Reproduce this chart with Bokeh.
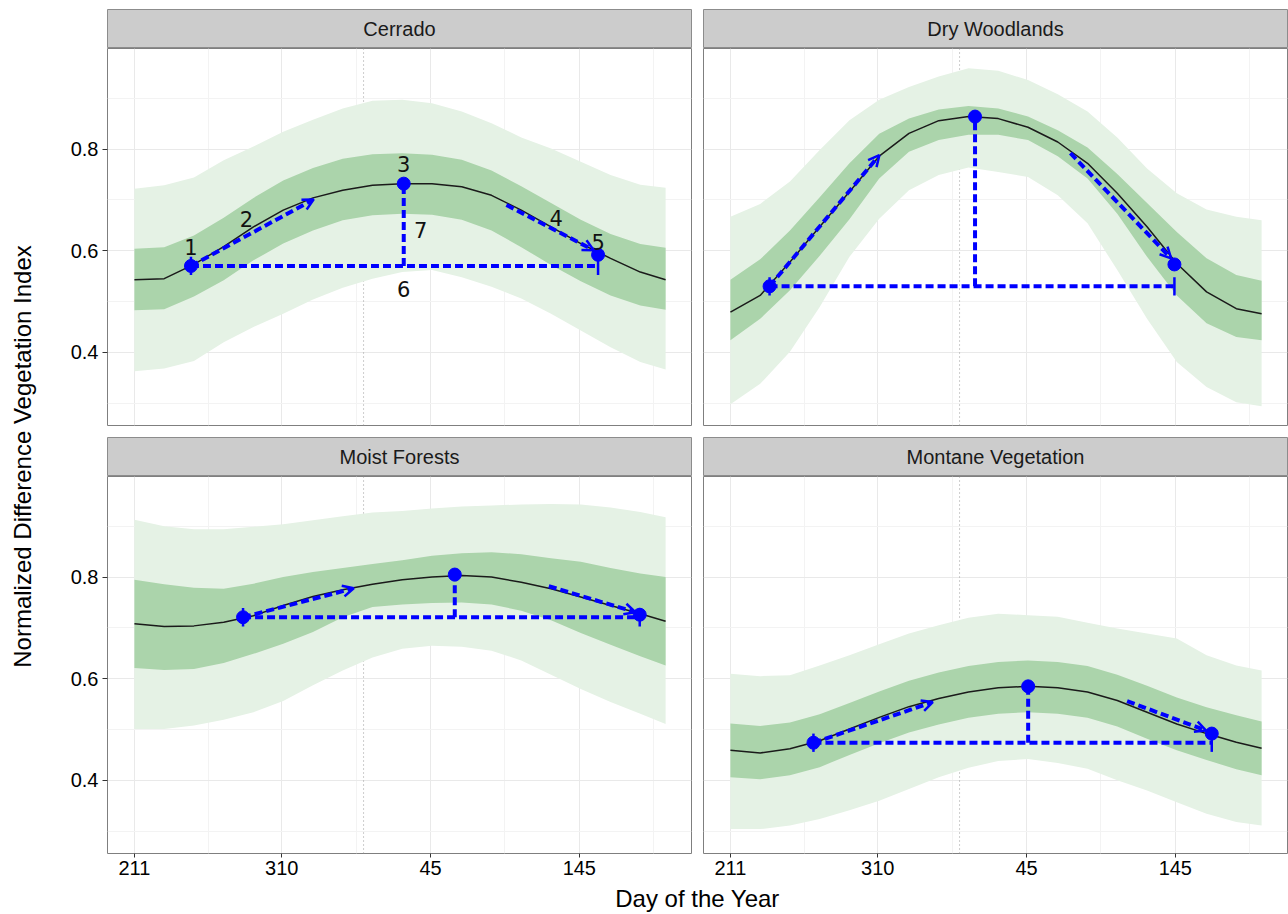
import math
from bokeh.plotting import figure
from bokeh.models import (Range1d, LinearAxis, FixedTicker, Grid, Span, Arrow,
                          OpenHead, ColumnDataSource)
from bokeh.layouts import row, column
from bokeh.embed import file_html
from bokeh.resources import INLINE
from bokeh.core.properties import value

# ---------------- data ----------------
# x = days elapsed since day-of-year 211
day_offset = [0, 20, 40, 60, 80, 100, 120, 140, 160, 180, 200, 220, 240, 260, 280, 300, 320, 340, 357]
x_tick_pos = [0, 99, 199, 299]
x_tick_labels = ["211", "310", "45", "145"]
x_minor_pos = [49.5, 149, 249, 349]
y_tick_pos = [0.4, 0.6, 0.8]
y_minor_pos = [0.3, 0.5, 0.7, 0.9]
new_year_offset = 154   # day 365/1 relative to day 211

panel_names = ["Cerrado", "Dry Woodlands", "Moist Forests", "Montane Vegetation"]

cerrado_mean = [0.543, 0.545, 0.573, 0.608, 0.647, 0.680, 0.704, 0.719, 0.729, 0.732, 0.732, 0.726, 0.709, 0.680, 0.647, 0.614, 0.585, 0.558, 0.543]
cerrado_dark_hi = [0.604, 0.607, 0.630, 0.665, 0.704, 0.738, 0.763, 0.781, 0.790, 0.792, 0.789, 0.779, 0.758, 0.727, 0.694, 0.661, 0.633, 0.613, 0.606]
cerrado_dark_lo = [0.483, 0.485, 0.510, 0.542, 0.581, 0.614, 0.640, 0.660, 0.670, 0.673, 0.671, 0.661, 0.640, 0.607, 0.572, 0.540, 0.512, 0.492, 0.484]
cerrado_light_hi = [0.722, 0.729, 0.744, 0.778, 0.805, 0.834, 0.858, 0.880, 0.895, 0.897, 0.890, 0.874, 0.851, 0.823, 0.801, 0.775, 0.749, 0.730, 0.724]
cerrado_light_lo = [0.363, 0.368, 0.383, 0.420, 0.450, 0.476, 0.504, 0.527, 0.545, 0.558, 0.562, 0.548, 0.529, 0.506, 0.476, 0.443, 0.410, 0.381, 0.366]

dry_mean = [0.479, 0.512, 0.578, 0.647, 0.716, 0.786, 0.831, 0.856, 0.864, 0.860, 0.843, 0.814, 0.772, 0.713, 0.647, 0.575, 0.519, 0.486, 0.476]
dry_dark_hi = [0.543, 0.583, 0.640, 0.705, 0.772, 0.830, 0.860, 0.878, 0.885, 0.880, 0.864, 0.837, 0.803, 0.751, 0.694, 0.637, 0.585, 0.552, 0.541]
dry_dark_lo = [0.424, 0.466, 0.522, 0.590, 0.662, 0.742, 0.795, 0.818, 0.828, 0.828, 0.818, 0.786, 0.742, 0.673, 0.588, 0.512, 0.457, 0.430, 0.424]
dry_light_hi = [0.667, 0.692, 0.736, 0.798, 0.857, 0.897, 0.922, 0.943, 0.959, 0.954, 0.936, 0.908, 0.874, 0.823, 0.762, 0.713, 0.681, 0.667, 0.660]
dry_light_lo = [0.298, 0.338, 0.401, 0.489, 0.588, 0.663, 0.719, 0.749, 0.764, 0.755, 0.745, 0.709, 0.654, 0.562, 0.466, 0.381, 0.332, 0.302, 0.294]

moist_mean = [0.708, 0.703, 0.704, 0.711, 0.724, 0.744, 0.762, 0.775, 0.786, 0.795, 0.800, 0.803, 0.800, 0.790, 0.777, 0.761, 0.744, 0.728, 0.713]
moist_dark_hi = [0.795, 0.786, 0.779, 0.777, 0.787, 0.800, 0.810, 0.818, 0.826, 0.833, 0.842, 0.847, 0.849, 0.845, 0.837, 0.830, 0.818, 0.807, 0.800]
moist_dark_lo = [0.621, 0.617, 0.619, 0.631, 0.649, 0.669, 0.692, 0.721, 0.741, 0.746, 0.749, 0.750, 0.746, 0.734, 0.715, 0.690, 0.667, 0.644, 0.626]
moist_light_hi = [0.913, 0.900, 0.894, 0.894, 0.899, 0.904, 0.912, 0.920, 0.927, 0.930, 0.935, 0.939, 0.941, 0.943, 0.944, 0.943, 0.937, 0.928, 0.918]
moist_light_lo = [0.501, 0.501, 0.508, 0.519, 0.534, 0.556, 0.587, 0.616, 0.642, 0.659, 0.665, 0.663, 0.655, 0.636, 0.608, 0.580, 0.554, 0.531, 0.511]

montane_mean = [0.459, 0.454, 0.462, 0.478, 0.501, 0.524, 0.545, 0.561, 0.574, 0.582, 0.585, 0.582, 0.574, 0.557, 0.534, 0.511, 0.492, 0.475, 0.463]
montane_dark_hi = [0.512, 0.507, 0.514, 0.530, 0.552, 0.575, 0.596, 0.612, 0.625, 0.633, 0.636, 0.633, 0.625, 0.608, 0.586, 0.563, 0.544, 0.528, 0.516]
montane_dark_lo = [0.406, 0.402, 0.410, 0.426, 0.450, 0.473, 0.494, 0.510, 0.523, 0.531, 0.534, 0.531, 0.523, 0.506, 0.482, 0.459, 0.440, 0.422, 0.410]
montane_light_hi = [0.610, 0.605, 0.607, 0.626, 0.646, 0.668, 0.689, 0.705, 0.720, 0.728, 0.725, 0.722, 0.710, 0.699, 0.689, 0.679, 0.646, 0.626, 0.616]
montane_light_lo = [0.304, 0.304, 0.311, 0.324, 0.341, 0.360, 0.383, 0.406, 0.425, 0.438, 0.442, 0.434, 0.423, 0.400, 0.380, 0.357, 0.334, 0.318, 0.311]

# phenology metrics per panel: (day offset, NDVI)
sos_day = [38.0, 26.3, 73.0, 55.8]
sos_ndvi = [0.570, 0.530, 0.721, 0.474]
peak_day = [181.0, 164.4, 215.3, 200.1]
peak_ndvi = [0.732, 0.864, 0.805, 0.585]
eos_day = [311.6, 298.4, 339.6, 323.5]
eos_ndvi = [0.592, 0.573, 0.726, 0.492]
green_up_end_day = [120.5, 100.1, 147.4, 136.0]
green_up_end_ndvi = [0.701, 0.788, 0.778, 0.554]
senescence_start_day = [250.0, 228.5, 278.5, 266.6]
senescence_start_ndvi = [0.690, 0.792, 0.782, 0.556]
senescence_end_day = [308.7, 296.2, 336.7, 319.7]
senescence_end_ndvi = [0.601, 0.585, 0.731, 0.498]

metric_labels = ["1", "2", "3", "4", "5", "6", "7"]

series = [
    (cerrado_mean, cerrado_dark_lo, cerrado_dark_hi, cerrado_light_lo, cerrado_light_hi),
    (dry_mean, dry_dark_lo, dry_dark_hi, dry_light_lo, dry_light_hi),
    (moist_mean, moist_dark_lo, moist_dark_hi, moist_light_lo, moist_light_hi),
    (montane_mean, montane_dark_lo, montane_dark_hi, montane_light_lo, montane_light_hi),
]

# ---------------- styles ----------------
LIGHT = "#e5f2e5"
DARK = "#abd4ab"
BLUE = "#0000ff"
FONT = "Liberation Sans"
FRAME_W, FRAME_H, STRIP_H = 584, 377, 39
X_RANGE = (-18.1, 374.4)
Y_RANGE = (0.256, 0.998)
TICK_HALF = 0.018


def blank_fig(**kw):
    f = figure(output_backend="svg", toolbar_location=None,
               x_axis_location=None, y_axis_location=None, **kw)
    f.center = [r for r in f.center if not isinstance(r, Grid)]
    f.outline_line_color = None
    return f


def make_strip(name, left, top_row):
    s = blank_fig(frame_width=FRAME_W, frame_height=STRIP_H,
                  x_range=Range1d(0, 1), y_range=Range1d(0, 1),
                  min_border_left=47 if left else 6, min_border_right=6 if left else 1,
                  min_border_top=9 if top_row else 0, min_border_bottom=0)
    s.background_fill_color = "#cccccc"
    s.outline_line_color = "#8c8c8c"
    s.text(x=[0.5], y=[0.5], text=[name], text_align="center", text_baseline="middle",
           text_font=value(FONT), text_font_size="20px", text_color="#1a1a1a")
    return s


def make_panel(i, left, bottom):
    mean, dlo, dhi, llo, lhi = series[i]
    p = blank_fig(frame_width=FRAME_W, frame_height=FRAME_H,
                  x_range=Range1d(*X_RANGE), y_range=Range1d(*Y_RANGE),
                  min_border_left=47 if left else 6, min_border_right=6 if left else 1,
                  min_border_top=0, min_border_bottom=32 if bottom else 12)
    p.outline_line_color = "#7f7f7f"
    p.outline_line_width = 1

    p.add_layout(Grid(dimension=0, ticker=FixedTicker(ticks=x_tick_pos, minor_ticks=x_minor_pos),
                      grid_line_color="#e9e9e9", minor_grid_line_color="#f3f3f3"), "center")
    p.add_layout(Grid(dimension=1, ticker=FixedTicker(ticks=y_tick_pos, minor_ticks=y_minor_pos),
                      grid_line_color="#e9e9e9", minor_grid_line_color="#f3f3f3"), "center")

    if left:
        ya = LinearAxis(ticker=FixedTicker(ticks=y_tick_pos))
        ya.axis_line_color = None
        ya.major_tick_line_color = "#333333"
        ya.major_tick_out = 5
        ya.major_tick_in = 0
        ya.minor_tick_line_color = None
        ya.major_label_standoff = 4
        ya.major_label_text_font = FONT
        ya.major_label_text_font_size = "20px"
        ya.major_label_text_color = "#000000"
        p.add_layout(ya, "left")
    if bottom:
        xa = LinearAxis(ticker=FixedTicker(ticks=x_tick_pos),
                        major_label_overrides=dict(zip(x_tick_pos, x_tick_labels)))
        xa.axis_line_color = None
        xa.major_tick_line_color = "#333333"
        xa.major_tick_out = 4
        xa.major_tick_in = 0
        xa.minor_tick_line_color = None
        xa.major_label_standoff = 3
        xa.major_label_text_font = FONT
        xa.major_label_text_font_size = "20px"
        xa.major_label_text_color = "#000000"
        p.add_layout(xa, "below")

    p.varea(x=day_offset, y1=llo, y2=lhi, fill_color=LIGHT)
    p.varea(x=day_offset, y1=dlo, y2=dhi, fill_color=DARK)
    p.add_layout(Span(location=new_year_offset, dimension="height", line_color="#9a9a9a",
                      line_width=1, line_dash="1 3", level="underlay"))
    p.line(x=day_offset, y=mean, line_color="#1a1a1a", line_width=1.5, line_join="round")

    base = sos_ndvi[i]
    # season length (horizontal) and amplitude (vertical)
    p.segment(x0=[sos_day[i], peak_day[i]], y0=[base, base],
              x1=[eos_day[i], peak_day[i]], y1=[base, peak_ndvi[i]],
              line_color=BLUE, line_width=4, line_dash="8 4")
    # end ticks of season length
    p.segment(x0=[sos_day[i], eos_day[i]], y0=[base - TICK_HALF, base - TICK_HALF],
              x1=[sos_day[i], eos_day[i]], y1=[base + TICK_HALF, base + TICK_HALF],
              line_color=BLUE, line_width=2.5)
    # green-up and senescence arrows
    for xs, ys, xe, ye in [(sos_day[i], sos_ndvi[i], green_up_end_day[i], green_up_end_ndvi[i]),
                           (senescence_start_day[i], senescence_start_ndvi[i],
                            senescence_end_day[i], senescence_end_ndvi[i])]:
        p.add_layout(Arrow(end=OpenHead(size=11, line_color=BLUE, line_width=2.5),
                           x_start=xs, y_start=ys, x_end=xe, y_end=ye,
                           line_color=BLUE, line_width=4, line_dash="8 4"))
    p.scatter(x=[sos_day[i], peak_day[i], eos_day[i]],
              y=[sos_ndvi[i], peak_ndvi[i], eos_ndvi[i]],
              size=13, color=BLUE, marker="circle")

    if i == 0:
        lab_x = [sos_day[i], (sos_day[i] + green_up_end_day[i]) / 2, peak_day[i],
                 (senescence_start_day[i] + senescence_end_day[i]) / 2, eos_day[i],
                 peak_day[i], peak_day[i]]
        lab_y = [sos_ndvi[i], (sos_ndvi[i] + green_up_end_ndvi[i]) / 2, peak_ndvi[i],
                 (senescence_start_ndvi[i] + senescence_end_ndvi[i]) / 2, eos_ndvi[i],
                 base, (base + peak_ndvi[i]) / 2]
        src = ColumnDataSource(dict(x=lab_x, y=lab_y, t=metric_labels,
                                    dx=[0, -6, 0, 6, 0, 0, 17],
                                    dy=[-19, -14, -20, -10, -13, 23, 5]))
        p.text(x="x", y="y", text="t", x_offset="dx", y_offset="dy", source=src,
               text_align="center", text_baseline="middle",
               text_font=value("DejaVu Sans"), text_font_size="21px", text_color="#111111")
    return p


left_col = column(make_strip(panel_names[0], True, True), make_panel(0, True, False),
                  make_strip(panel_names[2], True, False), make_panel(2, True, True))
right_col = column(make_strip(panel_names[1], False, True), make_panel(1, False, False),
                   make_strip(panel_names[3], False, False), make_panel(3, False, True))

xlab = blank_fig(frame_width=1228, frame_height=29, x_range=Range1d(0, 1228),
                 y_range=Range1d(0, 29), min_border=0)
xlab.text(x=[637], y=[16], text=["Day of the Year"], text_align="center",
          text_baseline="middle", text_font=value(FONT), text_font_size="24px",
          text_color="#000000")

ylab = blank_fig(frame_width=60, frame_height=914, x_range=Range1d(0, 60),
                 y_range=Range1d(0, 914), min_border=0)
ylab.text(x=[22], y=[458], text=["Normalized Difference Vegetation Index"], angle=math.pi / 2,
          text_align="center", text_baseline="middle", text_font=value(FONT),
          text_font_size="24px", text_color="#000000")

page = row(ylab, column(row(left_col, right_col), xlab))

open("out.html", "w").write(file_html(page, INLINE))
